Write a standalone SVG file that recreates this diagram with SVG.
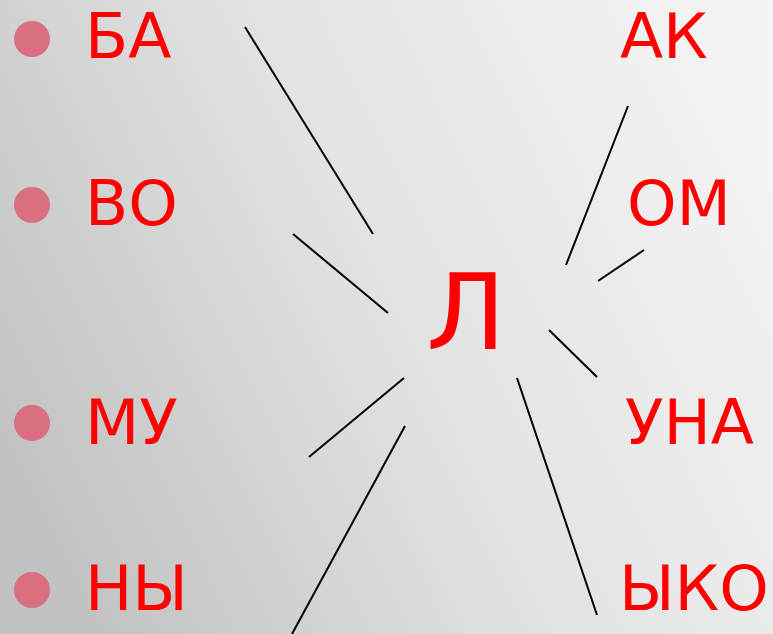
<svg xmlns="http://www.w3.org/2000/svg" width="773" height="634" viewBox="0 0 773 634">
<defs>
<linearGradient id="bg" x1="0" y1="0.7" x2="1" y2="0.3">
<stop offset="0" stop-color="#c2c2c2"/>
<stop offset="0.5" stop-color="#e2e2e2"/>
<stop offset="1" stop-color="#f3f3f3"/>
</linearGradient>
<style>
.t{font-family:"DejaVu Sans",sans-serif;font-size:63px;fill:#ff0000}
.b{fill:#d9707f}
.c line{stroke:#000;stroke-width:2}
</style>
</defs>
<rect width="773" height="634" fill="url(#bg)"/>
<g id="left">
<circle class="b" cx="32" cy="39" r="18"/><text class="t" x="85" y="58">БА</text>
<circle class="b" cx="32" cy="205" r="18"/><text class="t" x="85" y="225">ВО</text>
<circle class="b" cx="32" cy="423" r="18"/><text class="t" x="85" y="444">МУ</text>
<circle class="b" cx="32" cy="590" r="18"/><text class="t" x="85" y="610">НЫ</text>
</g>
<g id="right">
<text class="t" x="620" y="58">АК</text>
<text class="t" x="627" y="225">ОМ</text>
<text class="t" x="625" y="444">УНА</text>
<text class="t" x="619" y="610">ЫКО</text>
</g>
<g id="center"><text class="t" x="466" y="349" text-anchor="middle" style="font-size:106px">Л</text></g>
<g class="c" id="connectors">
<line x1="245" y1="27" x2="373" y2="234"/>
<line x1="293" y1="234" x2="388" y2="313"/>
<line x1="628" y1="106" x2="566" y2="265"/>
<line x1="644" y1="250" x2="598" y2="281"/>
<line x1="549" y1="330" x2="597" y2="377"/>
<line x1="404" y1="378" x2="309" y2="457"/>
<line x1="405" y1="426" x2="292" y2="634"/>
<line x1="517" y1="378" x2="597" y2="615"/>
</g>
</svg>
